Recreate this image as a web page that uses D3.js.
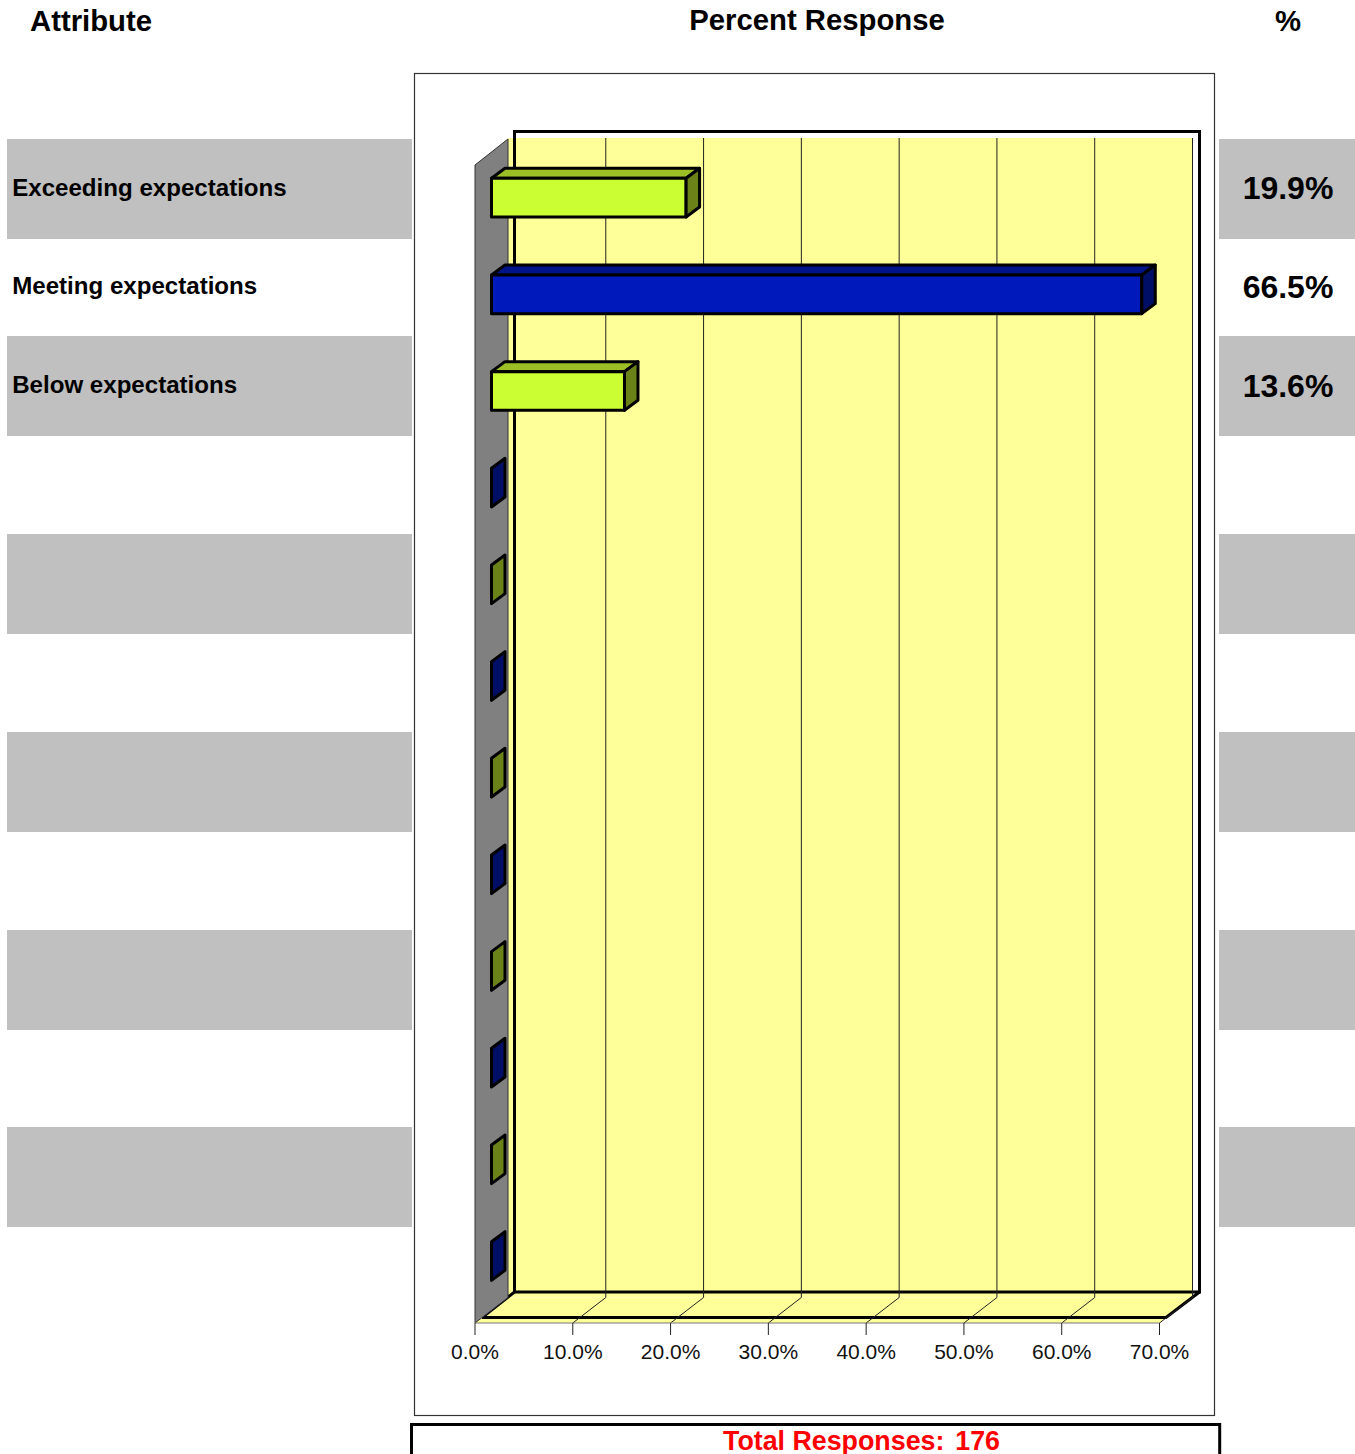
<!DOCTYPE html>
<html><head><meta charset="utf-8">
<script src="https://cdn.jsdelivr.net/npm/d3@7"></script>
<style>html,body{margin:0;padding:0;background:#fff}svg{display:block}text{font-family:"Liberation Sans",Arial,sans-serif}</style>
</head><body><svg id="c" width="1355" height="1454"></svg>
<script>
const categories = ["Exceeding expectations","Meeting expectations","Below expectations","c4","c5","c6","c7","c8","c9","c10","c11","c12"];
const labels = ["Exceeding expectations","Meeting expectations","Below expectations"];
const percents = ["19.9%","66.5%","13.6%"];
const values = [19.9,66.5,13.6,0,0,0,0,0,0,0,0,0];
const seriesIndex = [0,1,0,1,0,1,0,1,0,1,0,1];
const xTicks = [0,10,20,30,40,50,60,70];
const stripeTops = [139,336,534,732,930,1127];
const labelYs = [187,285,384];
const pctYs = [188,287,386];
const palette = [
  {front:"#ccff33",top:"#9dbf26",side:"#6b8219"},
  {front:"#0019bb",top:"#001489",side:"#000e66"}
];
const svg = d3.select("#c");
const x = d3.scaleLinear().domain([0,70]).range([475,1159.5]);
const step = 96.67, y0 = 178.3 - 0.3*step;
const y = d3.scaleBand().domain(categories).range([y0, y0+step*12]).paddingInner(0.6).paddingOuter(0.3);
const fb = 33, fh = 25.5;           // wall depth
const bx = 16.5, dx = 13.5, dy = 10; // bar offset and bar depth
const wallTop = 165, floorY = 1323;

// stripes
svg.append("g").selectAll("rect").data(stripeTops).join("rect")
  .attr("x",7).attr("y",d=>d).attr("width",405).attr("height",100).attr("fill","#c0c0c0");
svg.append("g").selectAll("rect").data(stripeTops).join("rect")
  .attr("x",1219).attr("y",d=>d).attr("width",136).attr("height",100).attr("fill","#c0c0c0");

// headers
const head = (t,xx,yy,s,anchor)=>svg.append("text").attr("x",xx).attr("y",yy).attr("font-size",s).attr("font-weight","bold")
  .attr("text-anchor",anchor||"middle").attr("dominant-baseline","central").text(t);
head("Attribute",91,20,29.3);
head("Percent Response",817,19,29.3);
head("%",1288,20,29.3);

svg.append("g").selectAll("text").data(labels).join("text")
  .attr("x",12.2).attr("y",(d,i)=>labelYs[i]).attr("font-size",24.1).attr("font-weight","bold")
  .attr("dominant-baseline","central").text(d=>d);
svg.append("g").selectAll("text").data(percents).join("text")
  .attr("x",1288).attr("y",(d,i)=>pctYs[i]).attr("font-size",32).attr("font-weight","bold")
  .attr("text-anchor","middle").attr("dominant-baseline","central").text(d=>d);

// chart box
svg.append("rect").attr("x",414.5).attr("y",73.5).attr("width",800).attr("height",1342)
  .attr("fill","#fff").attr("stroke","#333").attr("stroke-width",1.2);

const x0=x(0), x1=x(70);
const line = d3.line();
// back wall
svg.append("rect").attr("x",x0+fb).attr("y",138).attr("width",x1-x0).attr("height",floorY-fh-138).attr("fill","#ffff99");
// floor
svg.append("path").attr("d",line([[x0,floorY],[x0+fb,floorY-fh],[x1+fb,floorY-fh],[x1,floorY]])+"Z").attr("fill","#ffff99");
// thick frame
svg.append("path").attr("d",line([[514.5,1292],[514.5,131.5],[1199.5,131.5],[1199.5,1292],[514.5,1292]]))
  .attr("fill","none").attr("stroke","#000").attr("stroke-width",3);
svg.append("path").attr("d",line([[482,1317.5],[1166,1317.5],[1199.5,1292]])).attr("fill","none").attr("stroke","#000").attr("stroke-width",3);
svg.append("path").attr("d",line([[482,1317.5],[514.5,1292]])).attr("fill","none").attr("stroke","#000").attr("stroke-width",3);
// gridlines
svg.append("g").selectAll("path").data(xTicks.slice(1)).join("path")
  .attr("d",d=>line([[x(d)+fb,138],[x(d)+fb,floorY-fh],[x(d),floorY]]))
  .attr("fill","none").attr("stroke","#222").attr("stroke-width",1);
// side wall
svg.append("path").attr("d",line([[x0,wallTop],[x0+fb,139],[x0+fb,floorY-fh],[x0,floorY]])+"Z")
  .attr("fill","#808080").attr("stroke","#333").attr("stroke-width",1);
// floor front edge
svg.append("line").attr("x1",x0).attr("x2",x1).attr("y1",floorY).attr("y2",floorY).attr("stroke","#777").attr("stroke-width",1);
// axis
const ax = svg.append("g").attr("transform",`translate(0,${floorY})`)
  .call(d3.axisBottom(x).offset(0).tickValues(xTicks).tickSize(12).tickPadding(9).tickFormat(d=>d3.format(".1f")(d)+"%"));
ax.select(".domain").remove();
ax.selectAll("line").attr("stroke","#222");
ax.selectAll("text").attr("font-size",21).attr("fill","#111").attr("font-family",'"Liberation Sans",Arial,sans-serif');

// bars
const g = svg.append("g").attr("stroke","#000").attr("stroke-width",3).attr("stroke-linejoin","round");
categories.forEach((c,i)=>{
  const p = palette[seriesIndex[i]], l=x0+bx, r=x(values[i])+bx, t=y(c), b=t+y.bandwidth();
  const isZero = values[i]===0;
  if(!isZero){
    g.append("path").attr("fill",p.top).attr("d",line([[l,t],[l+dx,t-dy],[r+dx,t-dy],[r,t]])+"Z");
    g.append("rect").attr("fill",p.front).attr("x",l).attr("y",t).attr("width",r-l).attr("height",b-t);
  }
  g.append("path").attr("fill",p.side).attr("d",line([[r,t],[r+dx,t-dy],[r+dx,b-dy],[r,b]])+"Z");
});

// total box
svg.append("path").attr("d",line([[411.5,1454],[411.5,1424.5],[1219.7,1424.5],[1219.7,1454]])).attr("fill","none").attr("stroke","#000").attr("stroke-width",3);
svg.append("text").attr("x",723).attr("y",1441).attr("dominant-baseline","central")
  .attr("font-size",26.8).attr("font-weight","bold").attr("fill","#ff0000").text("Total Responses:");
svg.append("text").attr("x",1000).attr("y",1441).attr("text-anchor","end").attr("dominant-baseline","central")
  .attr("font-size",26.8).attr("font-weight","bold").attr("fill","#ff0000").text("176");
</script></body></html>
